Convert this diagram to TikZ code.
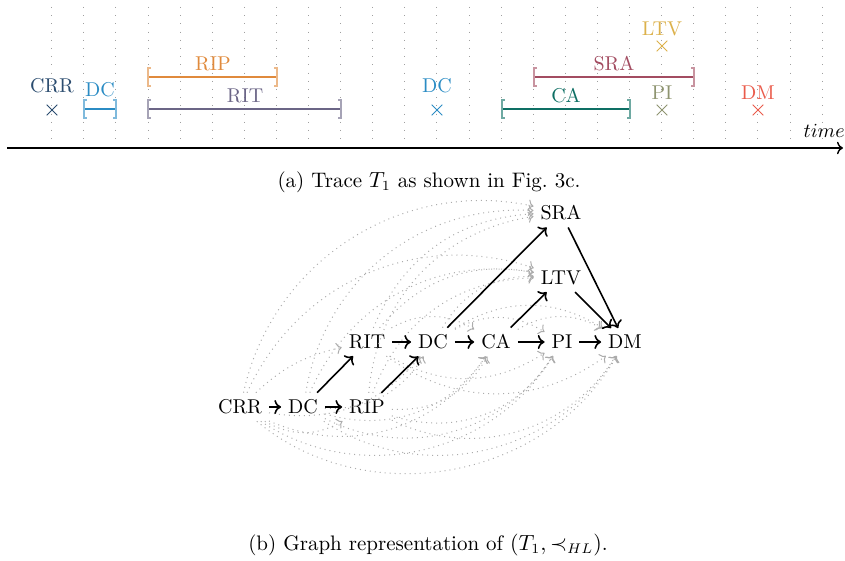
\documentclass[tikz,border=0pt]{standalone}
\usetikzlibrary{arrows.meta}
\definecolor{cCRR}{HTML}{2B4C6F}
\definecolor{cDC}{HTML}{2B8CC4}
\definecolor{cRIP}{HTML}{E08A3C}
\definecolor{cRIT}{HTML}{6B6586}
\definecolor{cCA}{HTML}{0E6F64}
\definecolor{cSRA}{HTML}{A34C61}
\definecolor{cLTV}{HTML}{DCB14B}
\definecolor{cPI}{HTML}{8E9470}
\definecolor{cDM}{HTML}{EA5B4B}
\newcommand{\tlbar}[4]{%
  \draw[#4, line width=1.3pt] (#1,-#3) -- (#2,-#3);
  \draw[#4!60, line width=0.6pt] (#1+3,-#3+9) -- (#1,-#3+9) -- (#1,-#3-9) -- (#1+3,-#3-9);
  \draw[#4!60, line width=0.6pt] (#2-3,-#3+9) -- (#2,-#3+9) -- (#2,-#3-9) -- (#2-3,-#3-9);
}
\newcommand{\tlcross}[3]{%
  \draw[#3, line width=0.5pt] (#1-5.3,-#2-5.3) -- (#1+5.3,-#2+5.3);
  \draw[#3, line width=0.5pt] (#1-5.3,-#2+5.3) -- (#1+5.3,-#2-5.3);
}
\begin{document}
\begin{tikzpicture}[x=0.5pt,y=0.5pt,
  gridline/.style={gray!75, line width=0.5pt, dash pattern=on 0.5pt off 3.6pt},
  lbl/.style={inner sep=0pt, font=\fontsize{10}{12}\selectfont},
  ev/.style={font=\fontsize{10}{12}\selectfont},
  hasse/.style={->, line width=0.8pt, black},
  trans/.style={->, gray!65, dotted, line width=0.5pt},
  capt/.style={font=\fontsize{10.5}{13}\selectfont}
]
\useasboundingbox (0,0) rectangle (845,-561);

% ---------- timeline ----------
\foreach \k in {0,...,24}
  \draw[gridline] ({51.7+32.1*\k},-7) -- ({51.7+32.1*\k},-143);
\draw[-{To[length=3pt]}, line width=0.7pt] (7,-148) -- (843,-148);
\node[lbl, anchor=base east] (time) at (845,-138) {$time$};

\tlcross{52}{110}{cCRR}
\node[lbl, text=cCRR] (tCRR) at (52,-86) {CRR};

\tlbar{84}{116}{109}{cDC}
\node[lbl, text=cDC] (tDC1) at (100,-90) {DC};

\tlbar{148}{277}{77}{cRIP}
\node[lbl, text=cRIP] (tRIP) at (213,-64) {RIP};

\tlbar{148}{341}{109}{cRIT}
\node[lbl, text=cRIT] (tRIT) at (245,-96) {RIT};

\tlcross{437}{110}{cDC}
\node[lbl, text=cDC] (tDC2) at (437,-86) {DC};

\tlbar{502}{630}{109}{cCA}
\node[lbl, text=cCA] (tCA) at (566,-96) {CA};

\tlbar{534}{694}{77}{cSRA}
\node[lbl, text=cSRA] (tSRA) at (614,-64) {SRA};

\tlcross{662}{46}{cLTV}
\node[lbl, text=cLTV] (tLTV) at (662,-29) {LTV};

\tlcross{662}{110}{cPI}
\node[lbl, text=cPI] (tPI) at (662,-93) {PI};

\tlcross{758}{110}{cDM}
\node[lbl, text=cDM] (tDM) at (758,-93) {DM};

\node[capt] (capa) at (429,-182) {(a) Trace $T_1$ as shown in Fig.~3c.};

% ---------- graph ----------
\node[ev] (CRR) at (240,-407) {CRR};
\node[ev] (DCa) at (303,-407) {DC};
\node[ev] (RIP) at (367,-407) {RIP};
\node[ev] (RIT) at (367,-342) {RIT};
\node[ev] (DCb) at (433,-342) {DC};
\node[ev] (CA)  at (496,-342) {CA};
\node[ev] (PI)  at (562,-342) {PI};
\node[ev] (DM)  at (625,-342) {DM};
\node[ev] (LTV) at (561,-278) {LTV};
\node[ev] (SRA) at (561,-213) {SRA};

% transitive (dotted) edges, above
\draw[trans] (CRR) to[bend left=15] (RIT);
\draw[trans] (CRR) to[bend left=45] (SRA);
\draw[trans] (DCa) to[bend left=42] (SRA);
\draw[trans] (RIP) to[bend left=38] (SRA);
\draw[trans] (RIT) to[bend left=32] (SRA);
\draw[trans] (CRR) to[bend left=42] (LTV);
\draw[trans] (DCa) to[bend left=38] (LTV);
\draw[trans] (RIP) to[bend left=34] (LTV);
\draw[trans] (RIT) to[bend left=30] (LTV);
\draw[trans] (DCb) to[bend left=30] (LTV);
\draw[trans] (RIT) to[bend left=30] (CA);
\draw[trans] (DCb) to[bend left=30] (PI);
\draw[trans] (DCb) to[bend left=32] (DM);
\draw[trans] (CA)  to[bend left=30] (DM);
% transitive (dotted) edges, below
\draw[trans] (CRR) to[bend right=30] (RIP);
\draw[trans] (CRR) to[bend right=30] (DCb);
\draw[trans] (DCa) to[bend right=30] (DCb);
\draw[trans] (CRR) to[bend right=40] (CA);
\draw[trans] (DCa) to[bend right=36] (CA);
\draw[trans] (RIP) to[bend right=32] (CA);
\draw[trans] (CRR) to[bend right=46] (PI);
\draw[trans] (DCa) to[bend right=42] (PI);
\draw[trans] (RIP) to[bend right=38] (PI);
\draw[trans] (RIT) to[bend right=32] (PI);
\draw[trans] (CRR) to[bend right=50] (DM);
\draw[trans] (DCa) to[bend right=46] (DM);
\draw[trans] (RIP) to[bend right=42] (DM);
\draw[trans] (RIT) to[bend right=36] (DM);

% Hasse edges
\draw[hasse] (CRR) -- (DCa);
\draw[hasse] (DCa) -- (RIP);
\draw[hasse] (DCa) -- (RIT);
\draw[hasse] (RIP) -- (DCb);
\draw[hasse] (RIT) -- (DCb);
\draw[hasse] (DCb) -- (CA);
\draw[hasse] (CA) -- (PI);
\draw[hasse] (PI) -- (DM);
\draw[hasse] (DCb) -- (SRA);
\draw[hasse] (CA) -- (LTV);
\draw[hasse] (SRA) -- (DM);
\draw[hasse] (LTV) -- (DM);

\node[capt] (capb) at (428,-545) {(b) Graph representation of $(T_1, \prec_{HL})$.};
\end{tikzpicture}
\end{document}
